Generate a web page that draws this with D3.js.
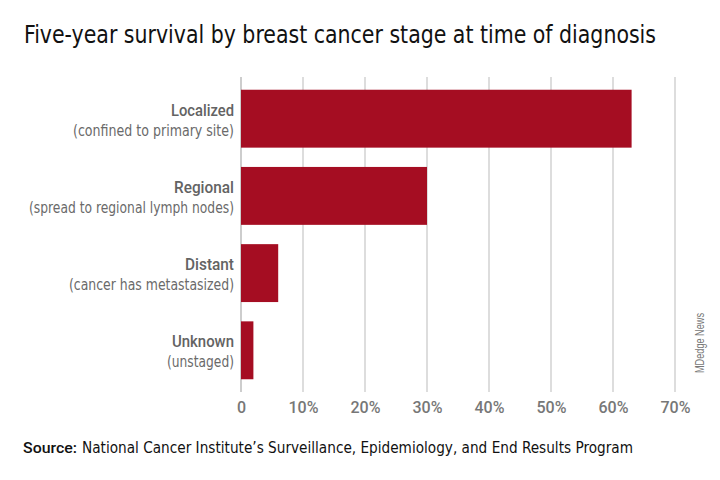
<!DOCTYPE html>
<html>
<head>
<meta charset="utf-8">
<script src="https://cdn.jsdelivr.net/npm/d3@7"></script>
<style>
  html, body { margin: 0; padding: 0; background: #fff; }
  svg { display: block; }
  text { font-family: "Liberation Sans Narrow", "DejaVu Sans Condensed", Roboto, sans-serif; }
</style>
</head>
<body>
<svg id="chart" width="720" height="480"></svg>
<script>
const categories = ["Localized", "Regional", "Distant", "Unknown"];
const subLabels = ["(confined to primary site)", "(spread to regional lymph nodes)", "(cancer has metastasized)", "(unstaged)"];
const values = [63, 30, 6, 2];
const tickValues = [0, 10, 20, 30, 40, 50, 60, 70];
const tickLabels = ["0", "10%", "20%", "30%", "40%", "50%", "60%", "70%"];
const titleText = "Five-year survival by breast cancer stage at time of diagnosis";
const sourceLabel = "Source:";
const sourceText = "National Cancer Institute\u2019s Surveillance, Epidemiology, and End Results Program";
const creditText = "MDedge News";

// measured label widths (layout)
const mainW = [63, 60, 49, 62];
const subW = [161, 205, 165, 67];

const svg = d3.select("#chart");
const x = d3.scaleLinear().domain([0, 70]).range([241, 675]);
const y = d3.scaleBand().domain(categories).range([77, 392]).paddingInner(0.25).paddingOuter(0.165);

// gridlines
svg.append("g").selectAll("line").data(tickValues).join("line")
  .attr("x1", d => x(d)).attr("x2", d => x(d))
  .attr("y1", 77).attr("y2", 392)
  .attr("stroke", d => d === 0 ? "#bdbdbd" : "#d2d2d2")
  .attr("stroke-width", 1.5);

// bars
svg.append("g").selectAll("rect").data(values).join("rect")
  .attr("x", x(0))
  .attr("y", (d, i) => y(categories[i]))
  .attr("width", d => x(d) - x(0))
  .attr("height", y.bandwidth())
  .attr("fill", "#a50d22");

// x axis tick labels
const xAxis = d3.axisBottom(x).tickValues(tickValues).tickSize(0)
  .tickFormat((d, i) => tickLabels[i]);
const gx = svg.append("g").attr("transform", "translate(0,398)").call(xAxis);
gx.select(".domain").remove();
gx.selectAll("text")
  .attr("dy", 0).attr("y", 15)
  .attr("fill", "#777").attr("font-size", 16)
  .style("font-family", "Roboto, 'Liberation Sans', sans-serif")
  .style("font-weight", 500);

// category labels
const lab = svg.append("g");
categories.forEach((c, i) => {
  const cy = y(c) + y.bandwidth() / 2;
  lab.append("text").attr("x", 234).attr("y", cy - 3)
    .attr("text-anchor", "end").attr("font-size", 17)
    .style("font-family", "Roboto, 'DejaVu Sans Condensed', sans-serif")
    .style("font-weight", 500)
    .attr("fill", "#636363")
    .attr("textLength", mainW[i]).attr("lengthAdjust", "spacingAndGlyphs")
    .text(c);
  lab.append("text").attr("x", 234).attr("y", cy + 17)
    .attr("text-anchor", "end").attr("font-size", 15)
    .attr("fill", "#6a6a6a")
    .attr("textLength", subW[i]).attr("lengthAdjust", "spacingAndGlyphs")
    .text(subLabels[i]);
});

// title
svg.append("text").attr("x", 24).attr("y", 43)
  .attr("font-size", 25).attr("fill", "#111")
  .attr("textLength", 632).attr("lengthAdjust", "spacingAndGlyphs")
  .text(titleText);

// source
svg.append("text").attr("x", 23).attr("y", 453)
  .attr("font-size", 15).attr("fill", "#111")
  .style("font-family", "Roboto, 'DejaVu Sans Condensed', sans-serif")
  .style("font-weight", 500)
  .attr("textLength", 54).attr("lengthAdjust", "spacingAndGlyphs")
  .text(sourceLabel);
svg.append("text").attr("x", 82).attr("y", 453)
  .attr("font-size", 15).attr("fill", "#111")
  .attr("textLength", 551).attr("lengthAdjust", "spacingAndGlyphs")
  .text(sourceText);

// credit
svg.append("text")
  .attr("transform", "translate(704,343) rotate(-90)")
  .attr("text-anchor", "middle").attr("font-size", 12).attr("fill", "#777")
  .style("font-family", "'Liberation Sans', Arimo, sans-serif")
  .attr("textLength", 60).attr("lengthAdjust", "spacingAndGlyphs")
  .text(creditText);
</script>
</body>
</html>
